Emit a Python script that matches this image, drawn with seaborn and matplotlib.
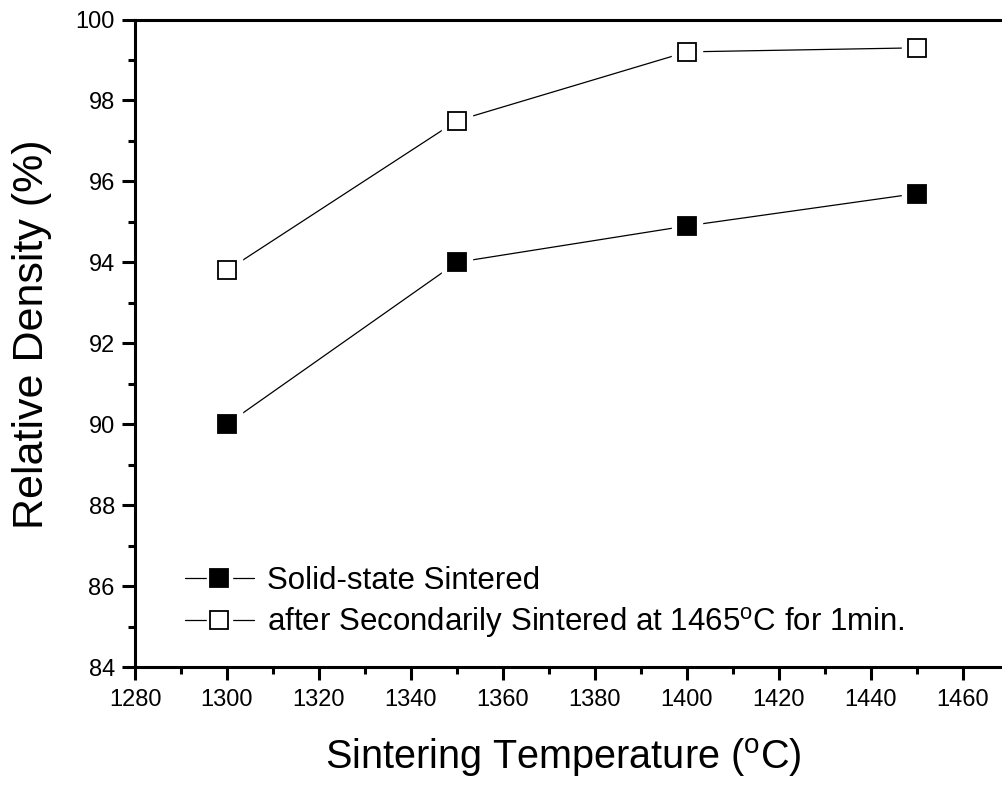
import numpy as np
import pandas as pd
import seaborn as sns
import matplotlib
matplotlib.use("Agg")
import matplotlib.pyplot as plt
from matplotlib.lines import Line2D
from matplotlib.legend_handler import HandlerTuple

temps = [1300, 1350, 1400, 1450]
solid_state = [90.0, 94.0, 94.9, 95.7]
secondary = [93.8, 97.5, 99.2, 99.3]
labels = ["Solid-state Sintered",
          r"after Secondarily Sintered at 1465$^{\mathrm{o}}$C for 1min."]

sns.set_style("ticks")
plt.rcParams['font.family'] = ['Liberation Sans', 'DejaVu Sans']
plt.rcParams['mathtext.fontset'] = 'custom'
plt.rcParams['mathtext.rm'] = 'Liberation Sans'
plt.rcParams['mathtext.it'] = 'Liberation Sans'
plt.rcParams['text.color'] = 'black'
plt.rcParams['axes.labelcolor'] = 'black'

fig = plt.figure(figsize=(10.02, 7.87), dpi=100)
W, H = 1002, 787
x0, x1 = 135, 135 + 190 * 4.6
y0, y1 = 667, 19.5
ax = fig.add_axes([x0 / W, (H - y0) / H, (x1 - x0) / W, (y0 - y1) / H])
axw, axh = x1 - x0, y0 - y1

MS = 13
for vals, fc in [(solid_state, 'black'), (secondary, 'white')]:
    df = pd.DataFrame({'T': temps, 'D': vals})
    sns.lineplot(data=df, x='T', y='D', ax=ax, color='black', linewidth=0.9,
                 marker=None, zorder=2)
    ax.plot(df['T'], df['D'], linestyle='none', marker='s', markersize=MS + 8,
            markerfacecolor='white', markeredgecolor='white', zorder=3)
    ax.plot(df['T'], df['D'], linestyle='none', marker='s', markersize=MS,
            markerfacecolor=fc, markeredgecolor='black', markeredgewidth=1.3,
            zorder=4)

ax.set_xlim(1280, 1470)
ax.set_ylim(84, 100)
ax.set_xticks(np.arange(1280, 1461, 20))
ax.set_xticks(np.arange(1290, 1470, 20), minor=True)
ax.set_yticks(np.arange(84, 100.1, 2))
ax.set_yticks(np.arange(85, 100, 2), minor=True)

for s in ax.spines.values():
    s.set_linewidth(2.2)
    s.set_color('black')
ax.spines['right'].set_visible(False)
ax.tick_params(which='major', direction='out', length=9.5, width=2.2,
               labelsize=17, color='black', labelcolor='black')
ax.tick_params(axis='x', which='major', pad=6)
ax.tick_params(axis='y', which='major', pad=5)
ax.tick_params(which='minor', direction='out', length=5, width=2.2,
               color='black')
ax.tick_params(top=False, right=False, which='both')

ax.set_xlabel(r"Sintering Temperature ($^{\mathrm{o}}$C)", fontsize=28.5)
ax.set_ylabel("Relative Density (%)", fontsize=31)
ax.xaxis.set_label_coords((563 - x0) / axw, (y0 - 736) / axh)
ax.yaxis.set_label_coords((52 - x0) / axw, (y0 - 334) / axh)

handles = []
for fc in ['black', 'white']:
    ln = Line2D([0], [0], color='black', linewidth=0.9)
    wm = Line2D([0], [0], linestyle='none', marker='s', markersize=MS + 5,
                markerfacecolor='white', markeredgecolor='white')
    mk = Line2D([0], [0], linestyle='none', marker='s', markersize=MS,
                markerfacecolor=fc, markeredgecolor='black', markeredgewidth=1.3)
    handles.append((ln, wm, mk))
leg = ax.legend(handles=handles, labels=labels,
                handler_map={tuple: HandlerTuple(ndivide=1)},
                loc='lower left',
                bbox_to_anchor=((185 - x0) / axw, (y0 - 640) / axh),
                frameon=False, fontsize=22.5, handlelength=2.2,
                handletextpad=0.42, labelspacing=0.3, borderaxespad=0,
                borderpad=0)

fig.savefig("out.png", dpi=100, facecolor='white')
